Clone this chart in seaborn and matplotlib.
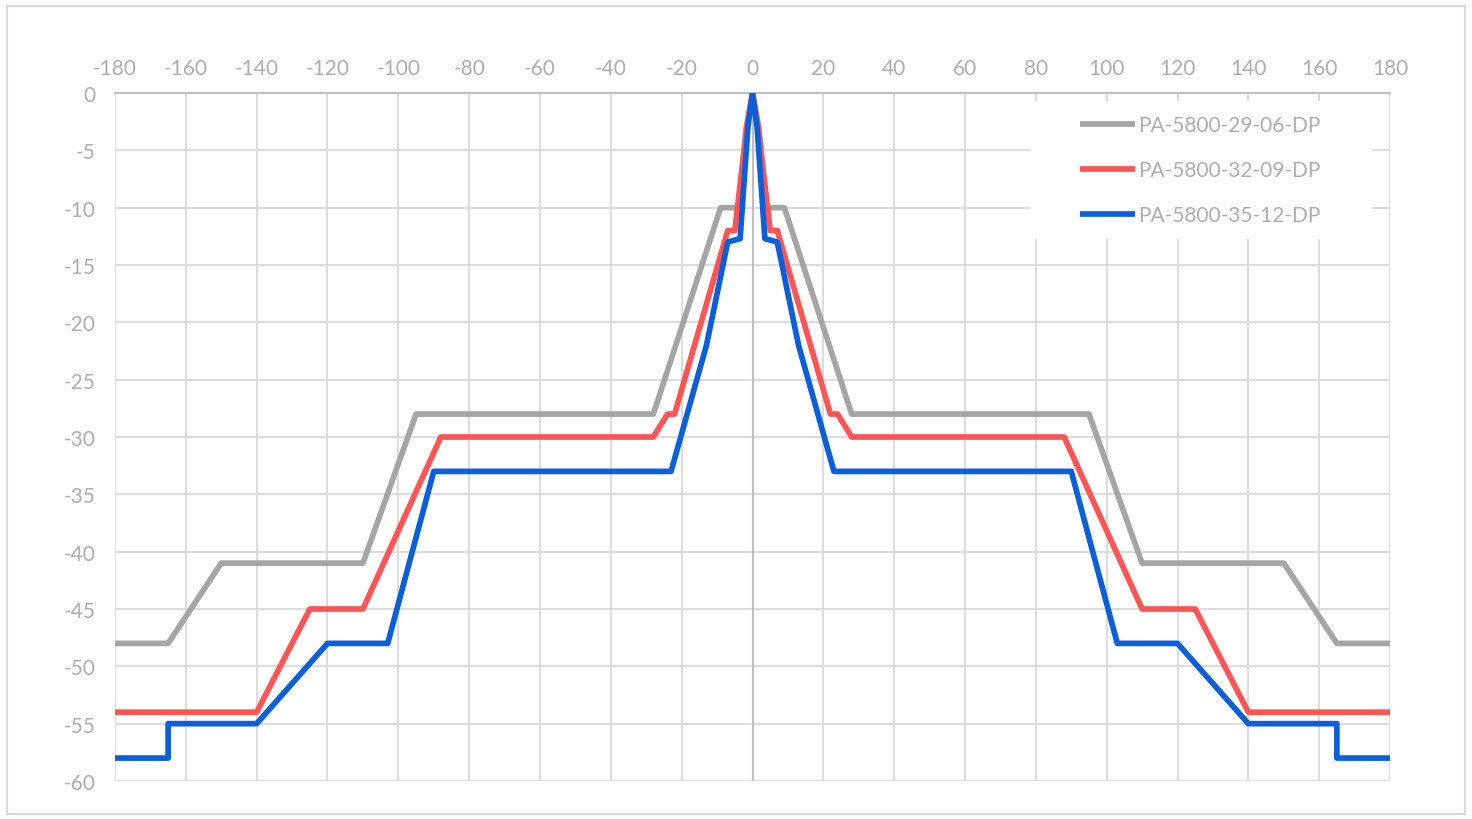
import matplotlib
matplotlib.use("Agg")
import matplotlib.pyplot as plt
from matplotlib.patches import Rectangle
import pandas as pd
import seaborn as sns

# antenna patterns (angle in degrees, gain in dB)
series_names = ["PA-5800-29-06-DP", "PA-5800-32-09-DP", "PA-5800-35-12-DP"]
series_colors = ["#a5a5a5", "#ff5454", "#0b5fdb"]

gray_angle = [-180, -165, -150, -110, -95, -28, -9, -4, -1.8, 0,
              1.8, 4, 9, 28, 95, 110, 150, 165, 180]
gray_gain = [-48, -48, -41, -41, -28, -28, -10, -10, -3, 0,
             -3, -10, -10, -28, -28, -41, -41, -48, -48]

red_angle = [-180, -140, -125, -110, -88, -28, -24, -22, -7, -5, -1.6, 0,
             1.6, 5, 7, 22, 24, 28, 88, 110, 125, 140, 180]
red_gain = [-54, -54, -45, -45, -30, -30, -28, -28, -12, -12, -3, 0,
            -3, -12, -12, -28, -28, -30, -30, -45, -45, -54, -54]

blue_angle = [-180, -165, -165, -140, -120, -103, -90, -23, -13, -7, -3.5, -1.3, 0,
              1.3, 3.5, 7, 13, 23, 90, 103, 120, 140, 165, 165, 180]
blue_gain = [-58, -58, -55, -55, -48, -48, -33, -33, -22, -13, -12.7, -3, 0,
             -3, -12.7, -13, -22, -33, -33, -48, -48, -55, -55, -58, -58]

x_ticks = list(range(-180, 181, 20))
y_ticks = list(range(-60, 1, 5))

sns.set_theme(style="white")
plt.rcParams["font.family"] = ["Lato", "DejaVu Sans"]
plt.rcParams["axes.unicode_minus"] = False

label_color = "#adadad"
grid_color = "#d9d9d9"

fig = plt.figure(figsize=(14.72, 8.2), dpi=100)
ax = fig.add_axes([115 / 1472, 1 - 782 / 820, 1275 / 1472, 688 / 820])

# outer chart border
fig.patches.append(Rectangle((7 / 1472, 5 / 820), 1458 / 1472, 808 / 820,
                             transform=fig.transFigure, fill=False,
                             edgecolor=grid_color, linewidth=1.5))

all_data = [(gray_angle, gray_gain), (red_angle, red_gain), (blue_angle, blue_gain)]
for (xs, ys), name, col in zip(all_data, series_names, series_colors):
    df = pd.DataFrame({"angle": xs, "gain": ys})
    sns.lineplot(data=df, x="angle", y="gain", ax=ax, color=col, linewidth=4.1,
                 sort=False, estimator=None, label=name, zorder=3,
                 solid_joinstyle="round", solid_capstyle="butt")

ax.set_xlim(-180, 180)
ax.set_ylim(-60, 0)
ax.set_xticks(x_ticks)
ax.set_yticks(y_ticks)
ax.xaxis.tick_top()
ax.set_xlabel("")
ax.set_ylabel("")
ax.tick_params(axis="x", length=0, pad=11, labelsize=15, labelcolor=label_color)
ax.tick_params(axis="y", length=0, pad=14, labelsize=15, labelcolor=label_color)

ax.grid(True, color=grid_color, linewidth=1.3, zorder=0)
ax.set_axisbelow(True)
for side in ["left", "right", "bottom"]:
    ax.spines[side].set_visible(False)
ax.spines["top"].set_color("#bfbfbf")
ax.spines["top"].set_linewidth(1.5)
ax.axvline(0, color="#bfbfbf", linewidth=1.5, zorder=1)

# white box behind the legend
ax.add_patch(Rectangle(((1030 - 115) / 1275, (782 - 240) / 688),
                       (1372 - 1030) / 1275, (240 - 102) / 688,
                       transform=ax.transAxes, facecolor="white",
                       edgecolor="none", zorder=2))

leg = ax.legend(loc="upper left", bbox_to_anchor=((1080 - 115) / 1275, (782 - 116) / 688),
                frameon=False, fontsize=15, handlelength=2.65, handletextpad=0.15,
                labelspacing=1.2, borderpad=0, borderaxespad=0)
for t in leg.get_texts():
    t.set_color(label_color)
leg.set_zorder(4)

fig.savefig("out.png", dpi=100)
